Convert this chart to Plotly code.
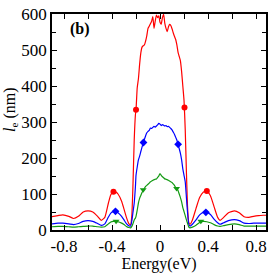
import plotly.graph_objects as go

energy = [-0.90, -0.85, -0.81, -0.76, -0.72, -0.68, -0.64, -0.60, -0.56, -0.52, -0.49, -0.46,
          -0.43, -0.41, -0.39, -0.37, -0.35, -0.32, -0.30, -0.28, -0.26, -0.245, -0.235, -0.225,
          -0.215, -0.205, -0.20, -0.19, -0.18, -0.17, -0.16, -0.15, -0.14, -0.13, -0.12, -0.11,
          -0.10, -0.09, -0.08, -0.07, -0.06, -0.05, -0.04, -0.03, -0.02, -0.01, 0.00, 0.01,
          0.02, 0.03, 0.04, 0.05, 0.06, 0.07, 0.08, 0.09, 0.10, 0.11, 0.12, 0.13,
          0.14, 0.15, 0.16, 0.17, 0.18, 0.19, 0.20, 0.21, 0.22, 0.23, 0.24, 0.25,
          0.27, 0.30, 0.33, 0.36, 0.39, 0.42, 0.45, 0.48, 0.50, 0.53, 0.57, 0.62,
          0.66, 0.70, 0.74, 0.78, 0.82, 0.86, 0.885]

le_red = [37, 40, 42, 38, 32, 38, 50, 53, 50, 38, 27, 35,
          75, 98, 106, 106, 100, 80, 58, 35, 18, 15, 40, 130,
          250, 320, 334, 395, 420, 460, 492, 508, 512, 514, 525, 540,
          560, 566, 573, 580, 593, 560, 580, 597, 590, 595, 577, 572,
          590, 599, 574, 560, 551, 564, 571, 568, 559, 548, 538, 530,
          515, 494, 482, 470, 440, 400, 360, 280, 160, 60, 20, 16,
          28, 60, 90, 105, 108, 95, 65, 35, 27, 35, 48, 53,
          48, 37, 35, 38, 40, 41, 41]

le_blue = [17, 19, 19, 17, 15, 18, 24, 26, 24, 18, 13, 17,
           36, 47, 51, 52, 48, 38, 28, 18, 12, 11, 25, 50,
           75, 120, 152, 175, 195, 205, 218, 230, 242, 252, 262, 270,
           274, 277, 283, 282, 285, 288, 286, 289, 292, 296, 294, 290,
           293, 291, 289, 290, 287, 288, 285, 282, 278, 272, 266, 258,
           250, 238, 226, 213, 195, 170, 152, 134, 90, 45, 15, 11,
           16, 28, 42, 49, 49, 43, 30, 20, 16, 20, 26, 29,
           26, 19, 18, 19, 19, 19, 19]

le_green = [9, 10, 10, 9, 8, 9, 10, 11, 11, 9, 8, 9,
            17, 22, 24, 24, 23, 19, 15, 10, 7, 6, 10, 18,
            28, 33, 38, 55, 75, 88, 96, 104, 110, 116, 121, 124,
            127, 130, 134, 136, 138, 140, 141, 142, 146, 150, 157, 152,
            148, 145, 142, 141, 140, 138, 136, 134, 132, 128, 124, 118,
            116, 110, 100, 90, 78, 62, 51, 40, 28, 18, 8, 6,
            8, 13, 21, 24, 23, 20, 15, 11, 10, 12, 15, 17,
            15, 11, 11, 11, 11, 11, 11]

mark_red_e = [-0.388, -0.20, 0.204, 0.39]
mark_red_v = [106, 334, 340, 108]
mark_blue_e = [-0.371, -0.138, 0.151, 0.382]
mark_blue_v = [52, 243, 238, 49]
mark_green_e = [-0.366, -0.14, 0.138, 0.34]
mark_green_v = [24, 112, 115, 24]

x_tickvals = [-0.8, -0.4, 0, 0.4, 0.8]
x_ticktext = ["-0.8", "-0.4", "0", "0.4", "0.8"]
y_tickvals = [0, 100, 200, 300, 400, 500, 600]

RED = "#ff0000"
BLUE = "#0000ff"
GREEN = "#139a13"
FONT = "Liberation Serif"

fig = go.Figure()
for ys, col in [(le_red, RED), (le_blue, BLUE), (le_green, GREEN)]:
    fig.add_trace(go.Scatter(x=energy, y=ys, mode="lines",
                             line=dict(color=col, width=1.2, shape="spline", smoothing=0.5),
                             showlegend=False, hoverinfo="skip"))
for xs, ys, col, sym, sz in [(mark_red_e, mark_red_v, RED, "circle", 6),
                             (mark_blue_e, mark_blue_v, BLUE, "diamond", 6),
                             (mark_green_e, mark_green_v, GREEN, "triangle-down", 6)]:
    fig.add_trace(go.Scatter(x=xs, y=ys, mode="markers",
                             marker=dict(color=col, symbol=sym, size=sz, line=dict(width=0)),
                             showlegend=False, hoverinfo="skip"))

fig.add_annotation(text="<b>(b)</b>", x=0.13, y=0.93, xref="paper", yref="paper",
                   showarrow=False, xanchor="center", yanchor="middle",
                   font=dict(family=FONT, size=16, color="black"))

fig.add_annotation(text="<i>l</i><sub>e</sub> (nm)", x=0, y=0.5, xref="paper", yref="paper",
                   xshift=-42, yshift=12, showarrow=False, textangle=-90,
                   xanchor="center", yanchor="middle",
                   font=dict(family=FONT, size=16, color="black"))

axis_common = dict(showline=True, linecolor="black", linewidth=1.5, mirror="allticks",
                   ticks="inside", ticklen=5, tickwidth=1, tickcolor="black",
                   showgrid=False, zeroline=False, ticklabeloverflow="allow",
                   tickfont=dict(family=FONT, size=17, color="black"))

fig.update_xaxes(range=[-0.9, 0.883], tickvals=x_tickvals, ticktext=x_ticktext,
                 minor=dict(tickvals=[-0.6, -0.2, 0.2, 0.6], ticks="inside", ticklen=5,
                            tickcolor="black", tickwidth=1),
                 title=dict(text="Energy(eV)", font=dict(family=FONT, size=16, color="black"),
                            standoff=1),
                 **axis_common)
fig.update_yaxes(range=[0, 600], tickvals=y_tickvals,
                 minor=dict(dtick=50, tick0=0, ticks="inside", ticklen=4,
                            tickcolor="black", tickwidth=1),
                 **axis_common)

fig.update_layout(width=273, height=273, margin=dict(l=52, r=5, t=6, b=39),
                  paper_bgcolor="white", plot_bgcolor="white",
                  font=dict(family=FONT, color="black"))

fig.write_html("out.html", config={"displayModeBar": False},
               post_script="document.body.style.margin='0';document.body.style.padding='0';")
